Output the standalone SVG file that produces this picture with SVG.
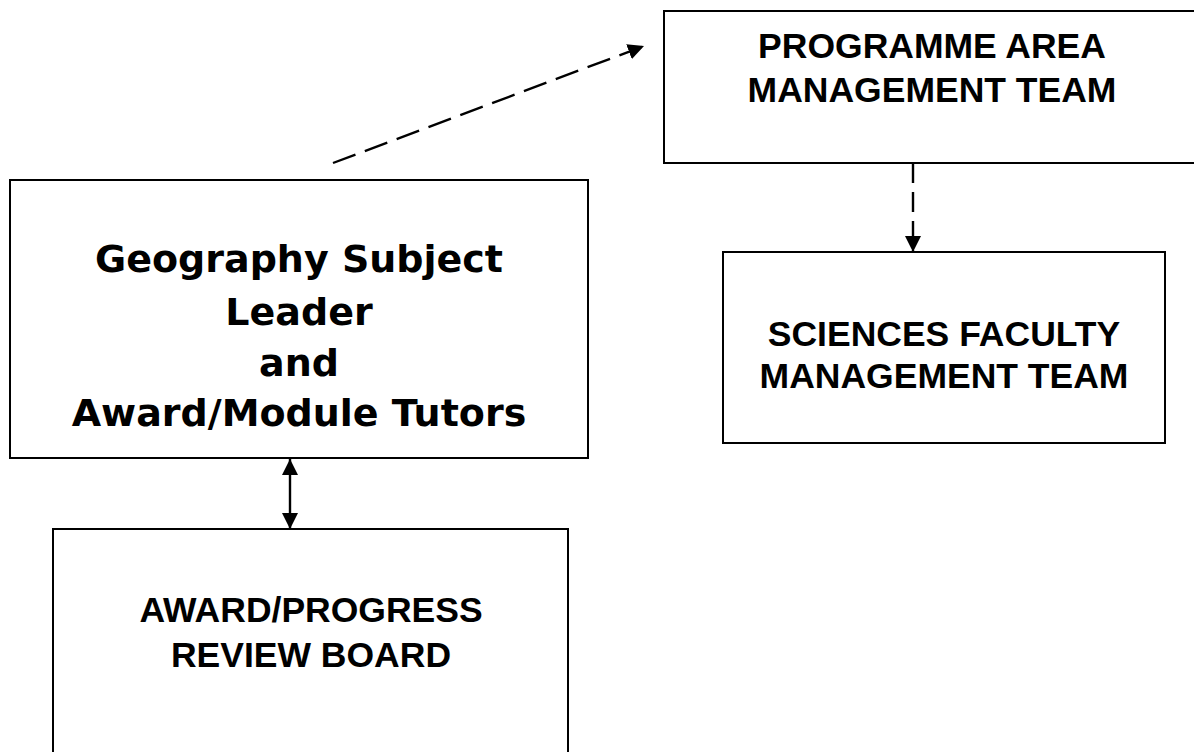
<svg xmlns="http://www.w3.org/2000/svg" width="1194" height="752" viewBox="0 0 1194 752">
<style>
.box{fill:#fff;stroke:#000;stroke-width:2}
.t{font-weight:bold;fill:#000;text-anchor:middle}
.big{font-family:"DejaVu Sans",sans-serif;font-size:38px}
.cap{font-family:"Liberation Sans",Arial,sans-serif;font-size:35.5px}
.con{stroke:#000;stroke-width:2.4;fill:none}
</style>
<defs>
<marker id="ah" viewBox="0 0 16 16" refX="16" refY="8" markerWidth="16" markerHeight="16" markerUnits="userSpaceOnUse" orient="auto-start-reverse">
<path d="M0,0 L16,8 L0,16 z" fill="#000"/>
</marker>
</defs>
<rect width="1194" height="752" fill="#fff"/>
<g id="programme">
<rect class="box" x="664" y="11" width="540" height="152"/>
<text class="t cap" x="932" y="58">PROGRAMME AREA</text>
<text class="t cap" x="932" y="102">MANAGEMENT TEAM</text>
</g>
<g id="geography">
<rect class="box" x="10" y="180" width="578" height="278"/>
<text class="t big" x="299" y="272">Geography Subject</text>
<text class="t big" x="299" y="325">Leader</text>
<text class="t big" x="299" y="376">and</text>
<text class="t big" x="299" y="426">Award/Module Tutors</text>
</g>
<g id="sciences">
<rect class="box" x="723" y="252" width="442" height="191"/>
<text class="t cap" x="944" y="346">SCIENCES FACULTY</text>
<text class="t cap" x="944" y="388">MANAGEMENT TEAM</text>
</g>
<g id="award">
<rect class="box" x="53" y="529" width="515" height="240"/>
<text class="t cap" x="311" y="622">AWARD/PROGRESS</text>
<text class="t cap" x="311" y="667">REVIEW BOARD</text>
</g>
<g id="connectors">
<line class="con" x1="333" y1="163" x2="644" y2="46" stroke-dasharray="24,10" marker-end="url(#ah)"/>
<line class="con" x1="913" y1="163" x2="913" y2="252" stroke-dasharray="20,9" marker-end="url(#ah)"/>
<line class="con" x1="290" y1="459" x2="290" y2="529" marker-start="url(#ah)" marker-end="url(#ah)"/>
</g>
</svg>
